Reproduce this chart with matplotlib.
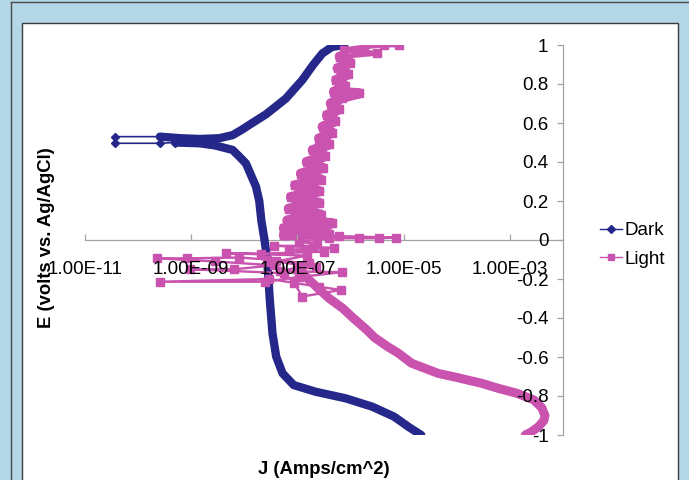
import matplotlib
matplotlib.use("Agg")
import matplotlib.pyplot as plt
from matplotlib.patches import Rectangle
from matplotlib.lines import Line2D
from matplotlib.ticker import FixedLocator, NullLocator

plt.rcParams['font.family'] = ['Liberation Sans', 'DejaVu Sans']

# ---------------- data (J in A/cm^2, E in V vs Ag/AgCl) ----------------
# Dark: cathodic branch (E = -1 up to corrosion potential)
dark_cath_J = [2.14e-5, 1.26e-5, 6.6e-6, 2.57e-6, 8.1e-7, 2.19e-7, 8.5e-8, 5.25e-8,
               3.98e-8, 3.39e-8, 3.02e-8, 2.69e-8, 2.40e-8, 2.09e-8, 1.91e-8, 1.66e-8,
               1.07e-8, 7.9e-9, 6.0e-9, 2.8e-9, 1.45e-9, 5.0e-10]
dark_cath_E = [-1.00, -0.96, -0.906, -0.855, -0.812, -0.778, -0.744, -0.684,
               -0.598, -0.479, -0.308, -0.10, 0.00, 0.10, 0.20, 0.273,
               0.393, 0.43, 0.462, 0.485, 0.496, 0.50]
# Dark: excursion to low current near corrosion potential
dark_spike_J = [5.0e-10, 2.57e-10, 3.6e-11, 3.6e-11, 2.57e-10]
dark_spike_E = [0.50, 0.496, 0.496, 0.530, 0.530]
# Dark: anodic branch
dark_anod_J = [2.57e-10, 6.31e-10, 1.45e-9, 3.39e-9, 6.03e-9, 8.9e-9, 1.41e-8, 2.57e-8,
               6.03e-8, 1.23e-7, 2.0e-7, 2.95e-7, 4.47e-7, 7.59e-7]
dark_anod_E = [0.530, 0.522, 0.518, 0.522, 0.538, 0.565, 0.60, 0.645,
               0.725, 0.82, 0.90, 0.957, 0.99, 1.00]

# Light: cathodic branch
light_cath_J = [1.95e-3, 2.51e-3, 3.47e-3, 4.37e-3, 4.57e-3, 3.98e-3, 2.82e-3, 1.35e-3,
                6.3e-4, 2.95e-4, 1.0e-4, 4.47e-5, 1.41e-5, 7.9e-6, 5.0e-6, 2.82e-6,
                2.0e-6, 1.12e-6, 7.1e-7, 3.98e-7, 2.51e-7, 1.58e-7, 1.07e-7]
light_cath_E = [-1.00, -0.985, -0.957, -0.925, -0.900, -0.860, -0.820, -0.786,
                -0.762, -0.735, -0.705, -0.684, -0.632, -0.58, -0.547, -0.50,
                -0.46, -0.40, -0.35, -0.30, -0.25, -0.20, -0.14]
# Light: noisy region around the corrosion potential
light_noise_J = [1.07e-7, 4.6e-8, 6.9e-7, 1.07e-7, 2.4e-8, 2.57e-10, 2.95e-8, 2.57e-7,
                 6.6e-7, 1.23e-7, 8.7e-8, 5.6e-8, 9.3e-10, 6.5e-9, 3.6e-8, 2.75e-9,
                 2.24e-10, 8.5e-10, 8.1e-9, 2.69e-8, 1.66e-7, 1.0e-7, 2.2e-7, 4.0e-8,
                 1.5e-7, 4.6e-9, 2.09e-8, 3.16e-7, 6.9e-8, 4.9e-7, 3.6e-8, 2.0e-7,
                 2.34e-7, 1.07e-7, 3.9e-7, 1.45e-6, 3.39e-6, 7.1e-6, 6.0e-7, 5.6e-8]
light_noise_E = [-0.14, -0.16, -0.165, -0.19, -0.214, -0.214, -0.20, -0.24,
                 -0.256, -0.29, -0.22, -0.17, -0.15, -0.15, -0.13, -0.11,
                 -0.094, -0.094, -0.09, -0.10, -0.12, -0.15, -0.14, -0.11,
                 -0.08, -0.068, -0.07, -0.06, -0.05, -0.04, -0.03, -0.03,
                 -0.02, -0.01, 0.009, 0.009, 0.009, 0.012, 0.02, 0.025]
# Light: anodic branch (scattered band)
light_anod_J = [5.6e-8, 3.93e-7, 5.6e-8, 4.47e-7, 6.5e-8, 2.75e-7, 6.9e-8, 2.57e-7,
                7.6e-8, 2.57e-7, 9.1e-8, 2.75e-7, 1.17e-7, 3.0e-7, 1.51e-7, 3.3e-7,
                1.95e-7, 3.9e-7, 2.57e-7, 4.47e-7, 3.0e-7, 5.1e-7, 3.63e-7, 6.0e-7,
                4.27e-7, 6.9e-7, 1.45e-6, 4.9e-7, 7.8e-7, 5.4e-7, 8.9e-7, 5.75e-7,
                9.8e-7, 6.3e-7]
light_anod_E = [0.025, 0.03, 0.06, 0.086, 0.10, 0.13, 0.16, 0.19,
                0.22, 0.25, 0.28, 0.31, 0.34, 0.37, 0.40, 0.43,
                0.46, 0.49, 0.52, 0.55, 0.58, 0.61, 0.64, 0.67,
                0.70, 0.73, 0.752, 0.76, 0.79, 0.82, 0.85, 0.88,
                0.91, 0.94]
# Light: top end of the anodic sweep
light_top_J = [6.3e-7, 3.1e-6, 7.6e-7, 1.78e-6, 4.27e-6, 8.1e-6]
light_top_E = [0.94, 0.957, 0.975, 0.99, 1.00, 1.00]

x_ticks = [1e-11, 1e-9, 1e-7, 1e-5, 1e-3]
x_tick_labels = ['1.00E-11', '1.00E-09', '1.00E-07', '1.00E-05', '1.00E-03']
y_ticks = [-1, -0.8, -0.6, -0.4, -0.2, 0, 0.2, 0.4, 0.6, 0.8, 1]
y_tick_labels = ['-1', '-0.8', '-0.6', '-0.4', '-0.2', '0', '0.2', '0.4', '0.6', '0.8', '1']

# ---------------- style ----------------
W, H = 689, 480
NAVY = '#25288a'
MAGENTA = '#c953ae'
AXIS_GRAY = '#a3a3a3'

fig = plt.figure(figsize=(W / 100, H / 100), dpi=100)
fig.patch.set_facecolor('#b3d7e6')
fig.add_artist(Rectangle((22 / W, -0.01), (678 - 22) / W, (H - 23) / H + 0.01,
                         transform=fig.transFigure, facecolor='white',
                         edgecolor='#3c3c3c', lw=1.0, zorder=0))
fig.add_artist(Line2D([11 / W, 11 / W], [0, 1 - 2 / H], color='#4a4a4a', lw=1.0,
                      transform=fig.transFigure))
fig.add_artist(Line2D([11 / W, 1], [1 - 2 / H, 1 - 2 / H], color='#4a4a4a', lw=1.0,
                      transform=fig.transFigure))

ax = fig.add_axes([85 / W, 1 - 435 / H, (563 - 85) / W, (435 - 45) / H])
ax.set_facecolor('none')
ax.set_xscale('log')
ax.set_xlim(1e-11, 1e-2)
ax.set_ylim(-1, 1)

for s in ('top', 'right'):
    ax.spines[s].set_visible(False)
ax.spines['bottom'].set_position(('data', 0))
ax.spines['left'].set_position(('data', 1e-2))
for s in ('bottom', 'left'):
    ax.spines[s].set_color(AXIS_GRAY)
    ax.spines[s].set_linewidth(0.9)
    ax.spines[s].set_zorder(1)

ax.xaxis.set_major_locator(FixedLocator(x_ticks))
ax.xaxis.set_minor_locator(NullLocator())
ax.set_xticklabels(x_tick_labels)
ax.yaxis.set_major_locator(FixedLocator(y_ticks))
ax.set_yticklabels(y_tick_labels)
ax.tick_params(axis='x', direction='in', length=4, width=0.9, color=AXIS_GRAY,
               pad=15, labelsize=13.5, labelcolor='black')
ax.tick_params(axis='y', direction='out', length=4, width=0.9, color=AXIS_GRAY,
               pad=6.5, labelsize=13.5, labelcolor='black')
ax.xaxis.set_zorder(3)
ax.yaxis.set_zorder(3)

# Dark series
band = dict(solid_capstyle='round', solid_joinstyle='round')
ax.plot(dark_cath_J, dark_cath_E, color=NAVY, lw=6.0, zorder=2, **band)
ax.plot(dark_anod_J, dark_anod_E, color=NAVY, lw=6.0, zorder=2, **band)
ax.plot(dark_spike_J, dark_spike_E, color=NAVY, lw=1.2, marker='D', markersize=4,
        zorder=2, label='Dark')

# Light series
ax.plot(light_cath_J, light_cath_E, color=MAGENTA, lw=6.5, zorder=2.1, **band)
ax.plot(light_anod_J, light_anod_E, color=MAGENTA, lw=7.5, marker='s', markersize=6,
        zorder=2.1, **band)
ax.plot(light_top_J, light_top_E, color=MAGENTA, lw=3.5, marker='s', markersize=6,
        zorder=2.1, **band)
ax.plot(light_noise_J, light_noise_E, color=MAGENTA, lw=1.7, marker='s', markersize=6,
        zorder=2.1, label='Light')

leg = ax.legend(loc='upper left', bbox_to_anchor=(600 / W, 1 - 222 / H),
                bbox_transform=fig.transFigure, frameon=False, fontsize=13.5,
                handlelength=1.15, handletextpad=0.15, labelspacing=0.6,
                borderpad=0, borderaxespad=0)
for h in leg.legend_handles:
    h.set_linewidth(1.0)
    h.set_markersize(4)

fig.text(324 / W, 1 - 470 / H, 'J (Amps/cm^2)', ha='center', va='center',
         fontsize=13.3, fontweight='bold')
fig.text(47 / W, 1 - 238 / H, 'E (volts vs. Ag/AgCl)', ha='center', va='center',
         rotation=90, fontsize=13.3, fontweight='bold')

fig.savefig('out.png', dpi=100, facecolor=fig.get_facecolor())
